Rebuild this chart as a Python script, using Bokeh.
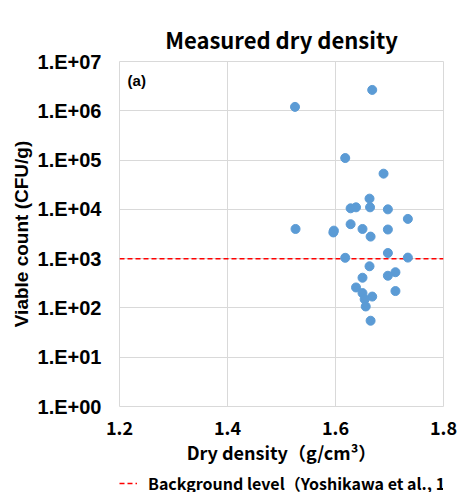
from bokeh.plotting import figure
from bokeh.layouts import column
from bokeh.models import (FixedTicker, CustomJSTickFormatter, Legend, LegendItem,
                          Range1d)
from bokeh.core.properties import value
from bokeh.embed import file_html
from bokeh.resources import INLINE

# Measured dry density (g/cm3) and viable count (CFU/g) of each sample
density = [1.525, 1.668, 1.618, 1.689, 1.663, 1.628, 1.638, 1.664, 1.697, 1.734,
           1.526, 1.596, 1.597, 1.628, 1.650, 1.697, 1.665, 1.618, 1.697, 1.734,
           1.663, 1.711, 1.697, 1.650, 1.638, 1.650, 1.668, 1.654, 1.711, 1.656,
           1.665]
count = [1.2e6, 2.65e6, 1.1e5, 5.3e4, 1.65e4, 1.05e4, 1.1e4, 1.1e4, 1.0e4, 6.4e3,
         4.0e3, 3.4e3, 3.7e3, 5.0e3, 4.0e3, 3.9e3, 2.8e3, 1.04e3, 1.3e3, 1.05e3,
         7.0e2, 5.3e2, 4.5e2, 4.1e2, 2.6e2, 2.0e2, 1.7e2, 1.5e2, 2.2e2, 1.07e2,
         55]

# Background level (Yoshikawa et al., 1995)
background_x = [1.2, 1.8]
background_y = [1e3, 1e3]
background_label = "Background level（Yoshikawa et al., 1995）"

x_ticks = [1.2, 1.4, 1.6, 1.8]
y_ticks = [1e0, 1e1, 1e2, 1e3, 1e4, 1e5, 1e6, 1e7]

JP = "Noto Sans CJK JP"
LAT = "Liberation Sans"
GRID = "#d9d9d9"
BG_STYLE = dict(line_color="#ff0000", line_width=1.5, line_dash="5 3")

p = figure(width=457, height=470, output_backend="svg", toolbar_location=None,
           y_axis_type="log",
           x_range=Range1d(1.2, 1.8), y_range=Range1d(1, 1e7),
           min_border_left=119, min_border_right=14,
           min_border_top=61, min_border_bottom=64,
           background_fill_color="white", border_fill_color="white",
           outline_line_color=GRID)

p.title.text = "Measured dry density"
p.title.align = "center"
p.title.vertical_align = "top"
p.title.text_font = JP
p.title.text_font_size = "22px"
p.title.text_font_style = "bold"
p.title.text_color = "black"
p.title.standoff = 10

# axes
p.xaxis.ticker = FixedTicker(ticks=x_ticks)
p.yaxis.ticker = FixedTicker(ticks=y_ticks)
p.yaxis.formatter = CustomJSTickFormatter(code="""
    const e = Math.round(Math.log10(tick));
    return "1.E+" + String(e).padStart(2, "0");
""")
for ax in (p.xaxis, p.yaxis):
    ax.axis_line_color = None
    ax.major_tick_line_color = None
    ax.minor_tick_line_color = None
    ax.major_label_text_color = "black"
    ax.axis_label_text_color = "black"
    ax.axis_label_text_font_style = "bold"

p.xaxis.axis_label = "Dry density（g/cm³）"
p.xaxis.axis_label_text_font = JP
p.xaxis.axis_label_text_font_size = "18px"
p.xaxis.major_label_text_font = JP
p.xaxis.major_label_text_font_size = "18px"
p.xaxis.major_label_text_font_style = "bold"
p.xaxis.major_label_standoff = 8
p.xaxis.axis_label_standoff = 1

p.yaxis.axis_label = "Viable count (CFU/g)"
p.yaxis.axis_label_text_font = LAT
p.yaxis.axis_label_text_font_size = "19px"
p.yaxis.major_label_text_font = LAT
p.yaxis.major_label_text_font_size = "20px"
p.yaxis.major_label_text_font_style = "bold"
p.yaxis.major_label_standoff = 12
p.yaxis.axis_label_standoff = 3

p.xgrid.grid_line_color = GRID
p.ygrid.grid_line_color = GRID
p.xgrid.grid_line_width = 1
p.ygrid.grid_line_width = 1

# background level and samples
p.line(background_x, background_y, **BG_STYLE)
p.scatter(density, count, size=9, fill_color="#5b9bd5", line_color="#5b9bd5")

# panel tag
p.text(x=[1.215], y=[10 ** 6.61], text=["(a)"], text_font=value(LAT),
       text_font_size="15px", text_font_style="bold",
       text_baseline="middle", text_color="black")

# legend strip under the chart (its own line sits outside the strip's view)
lg = figure(width=457, height=22, output_backend="svg", toolbar_location=None,
            x_axis_location=None, y_axis_location=None,
            x_range=Range1d(1.2, 1.8), y_range=Range1d(0, 1),
            min_border=0, outline_line_color=None,
            background_fill_color="white", border_fill_color="white")
lg.grid.visible = False
key = lg.line(background_x, background_y, **BG_STYLE)
legend = Legend(items=[LegendItem(label=background_label, renderers=[key])],
                location=(-16, -3), orientation="horizontal",
                label_text_font=JP, label_text_font_size="16px",
                label_text_font_style="bold", label_text_color="black",
                glyph_width=34, glyph_height=16, label_standoff=11,
                padding=0, margin=0, spacing=0,
                border_line_alpha=0, background_fill_alpha=0)
lg.add_layout(legend, "center")

layout = column(p, lg, spacing=0)
open("out.html", "w").write(file_html(layout, INLINE))
